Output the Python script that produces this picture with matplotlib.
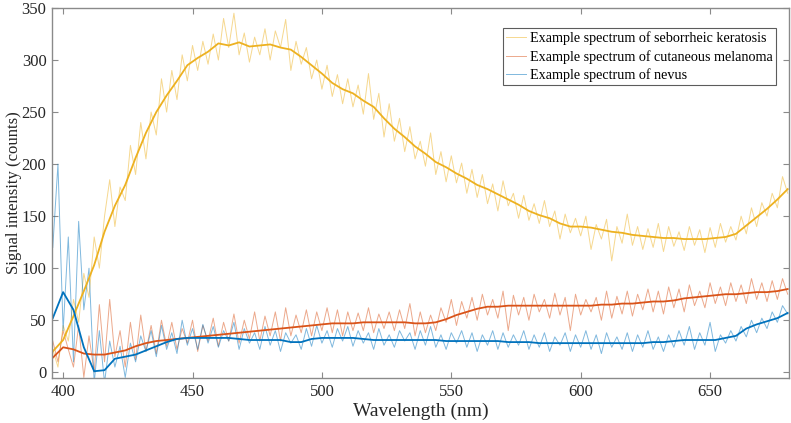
import numpy as np
import matplotlib
matplotlib.use("Agg")
import matplotlib.pyplot as plt

# raw spectra, every 2 nm (396 .. 680 nm)
wl_raw = np.arange(396, 681, 2)

sk_raw = [
    22, 5, 45, 30, 70, 48, 95, 72, 130, 100,          # 396-414
    150, 185, 140, 178, 165, 218, 190, 240, 205, 250,  # 416-434
    228, 282, 250, 290, 262, 305, 280, 314, 290, 318,  # 436-454
    296, 325, 300, 340, 312, 345, 305, 326, 298, 322,  # 456-474
    305, 330, 300, 328, 312, 339, 290, 318, 296, 312,  # 476-494
    282, 300, 272, 295, 265, 286, 258, 282, 255, 276,  # 496-514
    248, 287, 243, 268, 226, 258, 222, 244, 212, 236,  # 516-534
    205, 222, 198, 230, 190, 212, 183, 208, 182, 201,  # 536-554
    172, 195, 168, 190, 162, 181, 155, 184, 160, 172,  # 556-574
    148, 170, 146, 162, 143, 165, 140, 155, 128, 152,  # 576-594
    134, 148, 131, 150, 118, 142, 128, 147, 107, 140,  # 596-614
    124, 152, 122, 140, 118, 138, 120, 143, 116, 140,  # 616-634
    121, 135, 117, 140, 122, 137, 115, 139, 120, 143,  # 636-654
    125, 140, 127, 150, 133, 158, 140, 163, 150, 172,  # 656-674
    158, 188, 172,                                     # 676-680
]

mel_raw = [
    30, 10, 40, 22, 5, 45, -5, 35, 0, 65,
    10, 70, 15, 40, 5, 48, 12, 55, 20, 45,
    18, 50, 25, 48, 22, 42, 28, 50, 20, 45,
    30, 52, 25, 48, 30, 56, 28, 50, 32, 58,
    30, 54, 35, 58, 30, 62, 35, 55, 38, 60,
    35, 58, 40, 62, 38, 60, 35, 58, 40, 57,
    40, 62, 38, 56, 42, 58, 40, 60, 42, 66,
    35, 58, 38, 55, 40, 62, 48, 70, 45, 68,
    52, 72, 50, 75, 55, 70, 52, 78, 40, 74,
    55, 72, 50, 75, 58, 70, 52, 76, 55, 72,
    40, 75, 55, 70, 58, 72, 50, 78, 52, 73,
    56, 78, 54, 75, 60, 80, 58, 78, 56, 82,
    62, 80, 58, 84, 64, 78, 62, 86, 66, 82,
    64, 86, 68, 84, 66, 90, 70, 86, 68, 88,
    70, 90, 75,
]

nev_raw = [
    120, 200, 40, 130, 10, 145, 60, 100, -10, 40,
    -10, 30, 5, 25, -5, 28, 10, 35, 20, 40,
    15, 45, 22, 38, 18, 50, 26, 42, 22, 46,
    28, 44, 24, 40, 30, 48, 22, 42, 28, 38,
    22, 44, 26, 40, 20, 38, 28, 36, 22, 42,
    25, 45, 28, 40, 24, 42, 30, 44, 25, 40,
    28, 38, 22, 42, 26, 36, 24, 40, 30, 38,
    22, 40, 26, 44, 24, 36, 22, 38, 28, 40,
    24, 38, 20, 36, 26, 40, 22, 38, 24, 36,
    26, 40, 22, 36, 24, 38, 20, 34, 26, 38,
    20, 36, 24, 40, 22, 36, 18, 38, 24, 34,
    22, 38, 20, 36, 24, 40, 22, 34, 20, 36,
    24, 40, 26, 44, 22, 38, 26, 48, 20, 36,
    28, 40, 30, 44, 34, 50, 38, 52, 42, 58,
    48, 64, 56,
]

# smoothed curves, every 4 nm (396 .. 680 nm)
wl_smooth = np.arange(396, 681, 4)

sk_smooth = [
    20, 31, 54, 78, 103, 135, 160, 180,
    206, 230, 250, 266, 280, 295, 302, 308,
    316, 314, 317, 313, 314, 315, 312, 310,
    303, 295, 287, 278, 272, 268, 261, 255,
    244, 234, 226, 217, 210, 202, 197, 191,
    186, 180, 176, 171, 166, 161, 155, 151,
    148, 143, 140, 140, 139, 137, 135, 134,
    132, 131, 130, 129, 129, 128, 128, 128,
    129, 130, 133, 141, 149, 157, 166, 176,
]

mel_smooth = [
    14, 24, 22, 18, 17, 17, 19, 21,
    25, 28, 30, 31, 32, 33, 34, 35,
    36, 37, 38, 39, 40, 41, 42, 43,
    44, 45, 46, 47, 47, 47, 48, 48,
    48, 48, 48, 47, 47, 48, 51, 55,
    58, 61, 63, 63, 64, 64, 64, 64,
    64, 64, 64, 64, 64, 65, 65, 66,
    66, 67, 68, 68, 69, 71, 72, 73,
    74, 75, 75, 76, 77, 77, 78, 80,
]

nev_smooth = [
    52, 77, 60, 24, 1, 2, 13, 15,
    17, 21, 25, 29, 32, 33, 33, 33,
    33, 33, 32, 31, 31, 31, 31, 29,
    29, 32, 33, 33, 33, 33, 32, 31,
    31, 31, 31, 31, 31, 31, 30, 30,
    30, 30, 30, 30, 29, 29, 29, 28,
    28, 28, 28, 28, 28, 28, 28, 28,
    28, 28, 29, 29, 30, 31, 31, 31,
    31, 33, 35, 42, 46, 49, 52, 57,
]

labels = ["Example spectrum of seborrheic keratosis",
          "Example spectrum of cutaneous melanoma",
          "Example spectrum of nevus"]
colors = ["#EDB120", "#D95319", "#0072BD"]

plt.rcParams["font.family"] = ["Liberation Serif", "DejaVu Serif"]

fig = plt.figure(figsize=(7.91, 4.23), dpi=100)
ax = fig.add_axes([52 / 791, 45 / 423, 737 / 791, 370 / 423])

raw_sets = [sk_raw, mel_raw, nev_raw]
smooth_sets = [sk_smooth, mel_smooth, nev_smooth]

for raw, lab, c in zip(raw_sets, labels, colors):
    ax.plot(wl_raw, raw, color=c, lw=0.7, alpha=0.5, label=lab)
for sm, c in zip(smooth_sets, colors):
    ax.plot(wl_smooth, sm, color=c, lw=1.3)

ax.set_xlim(395.7, 680.5)
ax.set_ylim(-5.5, 350)
ax.set_xticks(np.arange(400, 651, 50))
ax.set_yticks(np.arange(0, 351, 50))

gray = "#8a8a8a"
for s in ax.spines.values():
    s.set_color(gray)
    s.set_linewidth(1.0)
ax.tick_params(direction="in", top=True, right=True, color=gray,
               length=4, labelsize=12, labelcolor="#262626", pad=4)

ax.set_xlabel("Wavelength (nm)", fontsize=14, color="#262626", labelpad=2)
ax.set_ylabel("Signal intensity (counts)", fontsize=12, color="#262626")
ax.yaxis.set_label_coords(-30 / 737, 0.5)

leg = ax.legend(loc="upper right", bbox_to_anchor=(1 - 13 / 737, 1 - 20 / 370),
                fontsize=10.2, frameon=True, fancybox=False, handlelength=1.4,
                borderpad=0.25, labelspacing=0.32, handletextpad=0.25,
                borderaxespad=0)
leg.get_frame().set_edgecolor("#333333")
leg.get_frame().set_linewidth(0.8)

fig.savefig("out.png", dpi=100)
